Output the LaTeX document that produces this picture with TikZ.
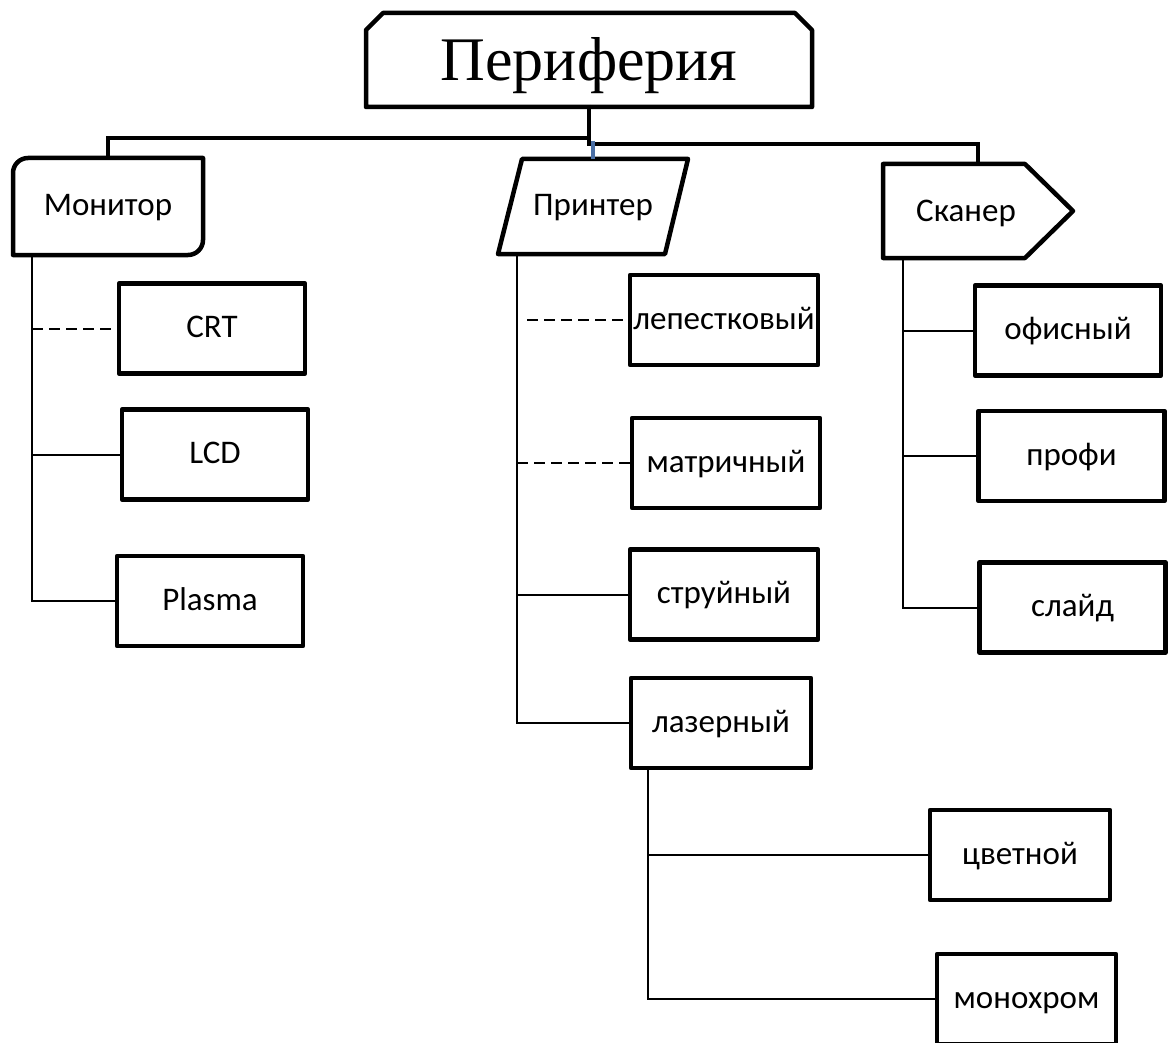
\documentclass[tikz,border=0pt]{standalone}
\usepackage{fontspec}
\setmainfont{Carlito}
\newfontfamily\headfont{Liberation Serif}
\definecolor{joinblue}{RGB}{74,111,165}

\begin{document}
\begin{tikzpicture}[x=1pt, y=-1pt,
  box/.style={draw, fill=white, line width=4.5pt, line join=round,
    minimum width=186pt, minimum height=90pt, inner sep=0pt,
    text height=24pt, text depth=6pt,
    font=\fontsize{33}{39}\selectfont},
  shapetext/.style={inner sep=0pt, text height=24pt, text depth=6pt,
    font=\fontsize{33}{39}\selectfont},
  outline/.style={line width=4.5pt, line join=round},
  bus/.style={line width=4.5pt},
  link/.style={line width=2pt},
  dashlink/.style={line width=2pt, dash pattern=on 11pt off 6pt}]

\useasboundingbox (0,0) rectangle (1172,1043);
\clip (0,0) rectangle (1172,1043);

%% top level
\draw[outline] (366,107) -- (366,30) -- (383,13) -- (795,13) -- (812,30)
  -- (812,107) -- cycle;
\node[shapetext, minimum width=441pt, minimum height=89pt,
  text height=52pt, text depth=10pt,
  font=\headfont\fontsize{62}{70}\selectfont] (root) at (589,60) {Периферия};

%% second level
\draw[outline] (13,255) -- (13,173) arc[start angle=180, end angle=270, radius=15]
  -- (203,158) -- (203,240) arc[start angle=0, end angle=90, radius=15] -- cycle;
\node[shapetext, minimum width=186pt, minimum height=93pt] (mon) at (108,206.5) {Монитор};

\draw[outline] (522,159) -- (688,159) -- (665,254) -- (498,254) -- cycle;
\node[shapetext, minimum width=150pt, minimum height=95pt] (prn) at (593,206.5) {Принтер};

\draw[outline] (883,164) -- (1025,164) -- (1073,211) -- (1025,258) -- (883,258) -- cycle;
\node[shapetext] (scan) at (966,213) {Сканер};
\coordinate (scantop) at (978,164);

\coordinate (hubL) at (589,138);
\coordinate (hubR) at (589,144);
\coordinate (hubB) at (593,141);
\draw[bus] (root.south) -- (hubR) -| (scantop);
\draw[bus] (hubL) -| (mon.north);
\draw[bus, joinblue, line width=4pt] (hubB) -- (prn.north);

%% monitors
\node[box] (crt) at (212,328.5) {CRT};
\node[box] (lcd) at (215,454.5) {LCD};
\node[box] (plasma) at (210,601) {Plasma};

\coordinate (mt) at (32,255);
\draw[link] (mt) |- (plasma.west);
\draw[link] (mt |- lcd.west) -- (lcd.west);
\draw[dashlink] (mt |- crt.west) -- (crt.west);

%% printers
\node[box, minimum width=188pt] (lep) at (724,320) {лепестковый};
\node[box, minimum width=188pt] (matr) at (726,463) {матричный};
\node[box, minimum width=188pt] (struy) at (724,594.5) {струйный};
\node[box, minimum width=180pt] (lazer) at (721,723) {лазерный};

\coordinate (pt) at (517,254);
\coordinate (ptd) at (527,254);
\draw[link] (pt) |- (lazer.west);
\draw[link] (pt |- struy.west) -- (struy.west);
\draw[dashlink] (pt |- matr.west) -- (matr.west);
\draw[dashlink] (ptd |- lep.west) -- (lep.west);

\node[box, minimum width=180pt] (tsvet) at (1020,855) {цветной};
\node[box, minimum width=179pt] (mono) at (1026.5,999) {монохром};

\coordinate (lt) at (648,768);
\draw[link] (lt) |- (mono.west);
\draw[link] (lt |- tsvet.west) -- (tsvet.west);

%% scanners
\node[box] (ofis) at (1068,330.5) {офисный};
\node[box] (profi) at (1071.5,456) {профи};
\node[box] (slaid) at (1072.5,607.5) {слайд};

\coordinate (st) at (903,258);
\draw[link] (st) |- (slaid.west);
\draw[link] (st |- ofis.west) -- (ofis.west);
\draw[link] (st |- profi.west) -- (profi.west);

\end{tikzpicture}
\end{document}
